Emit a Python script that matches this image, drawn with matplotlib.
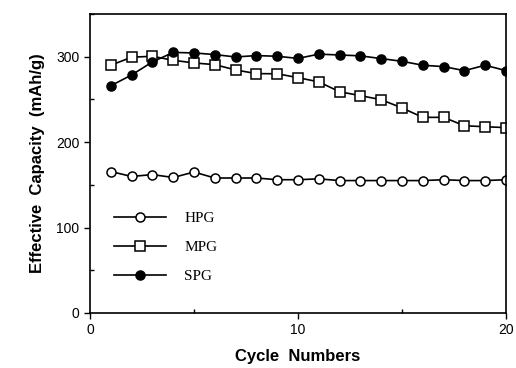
import matplotlib
matplotlib.use("Agg")
import matplotlib.pyplot as plt
from matplotlib.ticker import MultipleLocator

cycles = list(range(1, 21))
hpg = [165.6, 159.8, 162, 158.6, 165, 158, 158, 158, 156, 156,
       157, 155, 155, 155, 155, 155, 156, 155, 155, 156]
mpg = [290, 299.4, 300.5, 295.8, 292.7, 290.7, 284.5, 280.2, 280, 275.5,
       270.5, 259, 254.4, 249.7, 240, 229, 229, 219.2, 218, 217]
spg = [266, 278.6, 293.9, 305, 304.4, 302.5, 299.7, 301.3, 300.5, 298,
       303, 302, 301, 297.8, 294.6, 290, 288.4, 283.7, 290, 283.7]
series_names = ["HPG", "MPG", "SPG"]

fig = plt.figure(figsize=(5.16, 3.68), dpi=100)
ax = fig.add_axes([0.1744, 0.1495, 0.8062, 0.8125])

ax.plot(cycles, hpg, '-o', color='black', mfc='white', mec='black', ms=6.5, lw=1.2, mew=1.1, label=series_names[0])
ax.plot(cycles, mpg, '-s', color='black', mfc='white', mec='black', ms=6.5, lw=1.2, mew=1.1, label=series_names[1])
ax.plot(cycles, spg, '-o', color='black', mfc='black', mec='black', ms=6.5, lw=1.2, mew=1.1, label=series_names[2])

ax.set_xlim(0, 20)
ax.set_ylim(0, 350)
ax.xaxis.set_major_locator(MultipleLocator(10))
ax.xaxis.set_minor_locator(MultipleLocator(5))
ax.yaxis.set_major_locator(MultipleLocator(100))
ax.yaxis.set_minor_locator(MultipleLocator(50))
ax.tick_params(which='major', direction='out', length=4, width=1, labelsize=10)
ax.tick_params(which='minor', direction='in', length=3, width=1)
for lab in ax.get_xticklabels() + ax.get_yticklabels():
    lab.set_fontfamily('Liberation Sans')
for s in ax.spines.values():
    s.set_linewidth(1.2)

ax.set_xlabel("Cycle  Numbers", fontsize=12, fontweight='bold', family='Liberation Sans', labelpad=8)
ax.set_ylabel("Effective  Capacity  (mAh/g)", fontsize=12, fontweight='bold', family='Liberation Sans', labelpad=8)

leg = ax.legend(loc='upper left', bbox_to_anchor=(0.025, 0.385), frameon=False,
                prop={'family': 'Liberation Serif', 'size': 11},
                handlelength=3.4, labelspacing=1.0, handletextpad=1.2)

fig.savefig("out.png", dpi=100)
